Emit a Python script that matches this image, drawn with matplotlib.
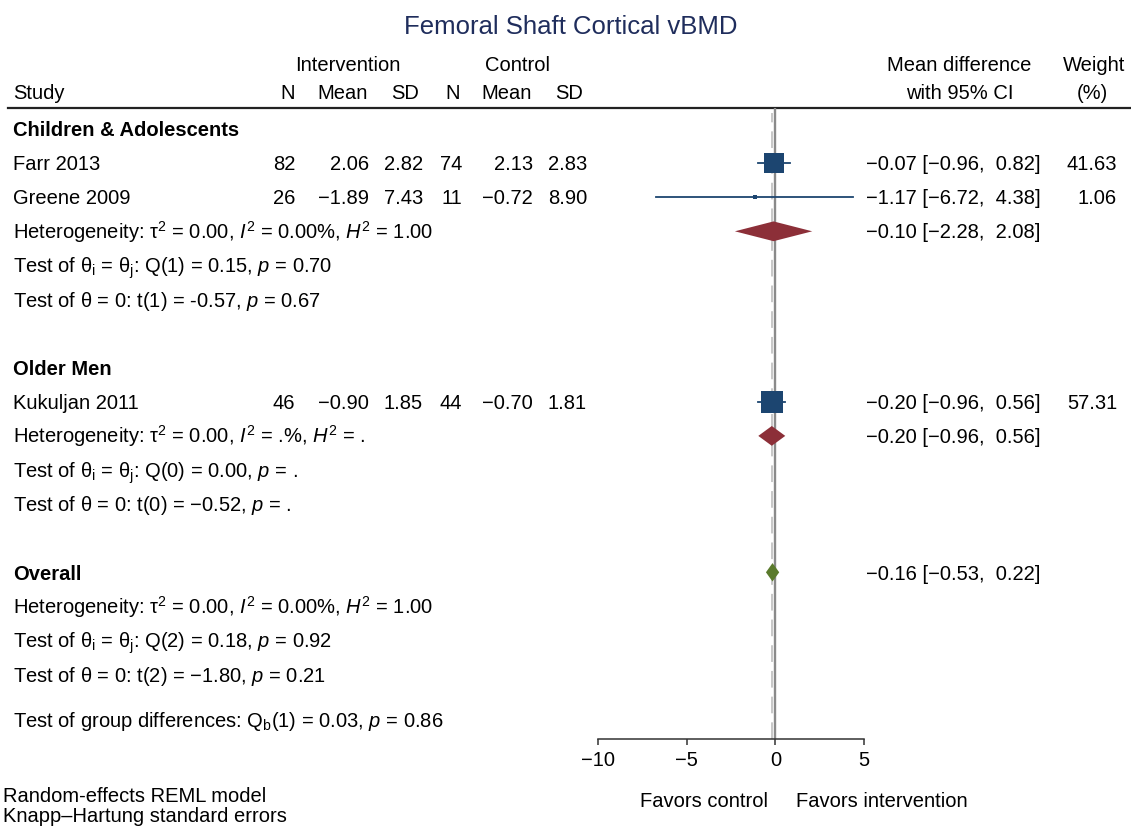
import matplotlib
matplotlib.use("Agg")
import matplotlib.pyplot as plt
from matplotlib.patches import Polygon

plt.rcParams['font.family'] = ['Liberation Sans', 'DejaVu Sans']
plt.rcParams['mathtext.fontset'] = 'custom'
plt.rcParams['mathtext.rm'] = 'Liberation Sans'
plt.rcParams['mathtext.it'] = 'Liberation Sans:italic'
plt.rcParams['mathtext.bf'] = 'Liberation Sans:bold'
plt.rcParams['lines.scale_dashes'] = False

# datos de los estudios
estudios = ["Farr 2013", "Greene 2009", "Kukuljan 2011"]
filas_est = [1, 2, 8]
int_n = [82, 26, 46]
int_media = [2.06, -1.89, -0.90]
int_sd = [2.82, 7.43, 1.85]
ctl_n = [74, 11, 44]
ctl_media = [2.13, -0.72, -0.70]
ctl_sd = [2.83, 8.90, 1.81]
dif = [-0.07, -1.17, -0.20]
ic_inf = [-0.96, -6.72, -0.96]
ic_sup = [0.82, 4.38, 0.56]
peso = [41.63, 1.06, 57.31]

# subgrupos y global
grupos = ["Children & Adolescents", "Older Men", "Overall"]
filas_grupo = [0, 7, 13]
sub_dif = [-0.10, -0.20]
sub_inf = [-2.28, -0.96]
sub_sup = [2.08, 0.56]
filas_sub = [3, 9]
tot_dif = -0.16
tot_inf = -0.53
tot_sup = 0.22
fila_tot = 13

estadisticos = [
    (3, r"Heterogeneity: τ$^2$ = 0.00, $I^2$ = 0.00%, $H^2$ = 1.00"),
    (4, r"Test of θ$_\mathrm{i}$ = θ$_\mathrm{j}$: Q(1) = 0.15, $p$ = 0.70"),
    (5, r"Test of θ = 0: t(1) = -0.57, $p$ = 0.67"),
    (9, r"Heterogeneity: τ$^2$ = 0.00, $I^2$ = .%, $H^2$ = ."),
    (10, r"Test of θ$_\mathrm{i}$ = θ$_\mathrm{j}$: Q(0) = 0.00, $p$ = ."),
    (11, r"Test of θ = 0: t(0) = −0.52, $p$ = ."),
    (14, r"Heterogeneity: τ$^2$ = 0.00, $I^2$ = 0.00%, $H^2$ = 1.00"),
    (15, r"Test of θ$_\mathrm{i}$ = θ$_\mathrm{j}$: Q(2) = 0.18, $p$ = 0.92"),
    (16, r"Test of θ = 0: t(2) = −1.80, $p$ = 0.21"),
    (17.33, r"Test of group differences: Q$_\mathrm{b}$(1) = 0.03, $p$ = 0.86"),
]
ticks_x = [-10, -5, 0, 5]

AZUL = '#1c4570'
ROJO = '#8c2f38'
VERDE = '#5a7a2c'
FS = 14.5
BL = 7.2   # de centro de mayusculas a linea base (px)

W, H = 1131, 826
Y0, DY = 129, 34.1          # fila 0 y separacion en pixeles
TOP, BOT = 108, 739
X_IZQ, X_DER = 598, 864


def fila_px(r):
    return Y0 + DY * r


def fmt(v):
    return f"{v:.2f}".replace("-", "\u2212")


def texto(x, yc, s, **kw):
    # coloca el texto con su linea base, yc = centro de las mayusculas
    kw.setdefault('fontsize', FS)
    axt.text(x, yc + BL, s, va='baseline', **kw)


fig = plt.figure(figsize=(W / 100, H / 100), dpi=100)
fig.patch.set_facecolor('white')

# eje de texto en pixeles
axt = fig.add_axes([0, 0, 1, 1])
axt.set_xlim(0, W)
axt.set_ylim(H, 0)
axt.axis('off')

# eje del forest plot
ax = fig.add_axes([X_IZQ / W, (H - BOT) / H, (X_DER - X_IZQ) / W, (BOT - TOP) / H])
ax.patch.set_visible(False)
ax.set_xlim(-10, 5)
ax.set_ylim((BOT - Y0) / DY, (TOP - Y0) / DY)
for lado in ['top', 'left', 'right']:
    ax.spines[lado].set_visible(False)
ax.spines['bottom'].set_color('#333333')
ax.spines['bottom'].set_linewidth(1.1)
ax.set_yticks([])
ax.set_xticks(ticks_x)
ax.tick_params(axis='x', direction='out', length=4.5, width=1.1, color='#333333',
               labelsize=FS, pad=4.5)

# lineas verticales
ax.axvline(0, color='#8a8a8a', lw=1.7, zorder=1)
lin = ax.axvline(tot_dif, ymax=0.992, color='#bdbdbd', lw=1.2, zorder=1)
lin.set_dashes([12, 6.5])

# estudios: cuadrados e intervalos
peso_max = max(peso)
for r, d, lo, hi, w in zip(filas_est, dif, ic_inf, ic_sup, peso):
    ax.plot([lo, hi], [r, r], color=AZUL, lw=1.3, zorder=2)
    lado_pt = 16.3 * (w / peso_max) ** 0.5
    ax.scatter([d], [r], marker='s', s=lado_pt ** 2, color=AZUL, zorder=3,
               linewidths=0)


def rombo(d, lo, hi, r, color, h=0.29):
    p = Polygon([(lo, r), (d, r - h), (hi, r), (d, r + h)], closed=True,
                facecolor=color, edgecolor='none', zorder=3)
    ax.add_patch(p)


for r, d, lo, hi in zip(filas_sub, sub_dif, sub_inf, sub_sup):
    rombo(d, lo, hi, r, ROJO)
rombo(tot_dif, tot_inf, tot_sup, fila_tot, VERDE, h=0.27)

# titulo y encabezados
axt.text(571, 34, "Femoral Shaft Cortical vBMD", fontsize=18.5, color='#1f2d5c',
         ha='center', va='baseline')
texto(348, 64, "Intervention", ha='center')
texto(517, 64, "Control", ha='center')
texto(13, 92, "Study", ha='left')
for x, t in zip([295, 368, 419, 460, 532, 583], ["N", "Mean", "SD", "N", "Mean", "SD"]):
    texto(x, 92, t, ha='right')
texto(959, 64, "Mean difference", ha='center')
texto(960, 92, "with 95% CI", ha='center')
texto(1094, 64, "Weight", ha='center')
texto(1092, 92, "(%)", ha='center')
axt.plot([8, W], [TOP, TOP], color='#222222', lw=1.6, zorder=5)

# grupos en negrita
for g, r in zip(grupos, filas_grupo):
    texto(13, fila_px(r), g, fontweight='bold', ha='left')

# filas de estudios
cols_der = [295, 369, 423, 462, 533, 587]
for i, nombre in enumerate(estudios):
    y = fila_px(filas_est[i])
    texto(13, y, nombre, ha='left')
    vals = [str(int_n[i]), fmt(int_media[i]), fmt(int_sd[i]),
            str(ctl_n[i]), fmt(ctl_media[i]), fmt(ctl_sd[i])]
    for x, v in zip(cols_der, vals):
        texto(x, y, v, ha='right')
    texto(866, y, f"{fmt(dif[i])} [{fmt(ic_inf[i])},  {fmt(ic_sup[i])}]", ha='left')
    texto(1117, y, f"{peso[i]:.2f}", ha='right')

for r, d, lo, hi in zip(filas_sub + [fila_tot], sub_dif + [tot_dif],
                        sub_inf + [tot_inf], sub_sup + [tot_sup]):
    texto(866, fila_px(r), f"{fmt(d)} [{fmt(lo)},  {fmt(hi)}]", ha='left')

# estadisticos
for r, t in estadisticos:
    texto(13, fila_px(r), t, ha='left')

# etiquetas del eje y notas
texto(768, 800, "Favors control", ha='right')
texto(796, 800, "Favors intervention", ha='left')
texto(3, 795, "Random-effects REML model", ha='left')
texto(3, 815, "Knapp\u2013Hartung standard errors", ha='left')

fig.savefig("out.png", dpi=100)
